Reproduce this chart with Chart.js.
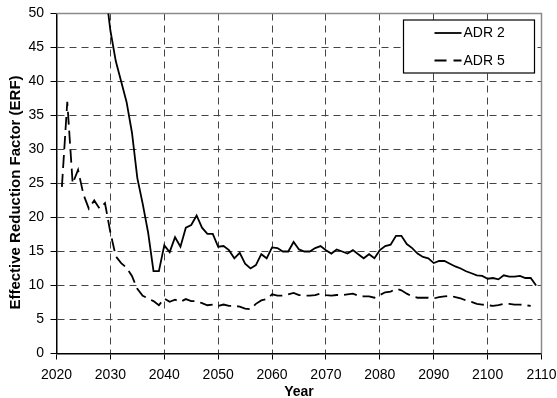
<!DOCTYPE html>
<html>
<head>
<meta charset="utf-8">
<title>ERF</title>
<script src="https://cdn.jsdelivr.net/npm/chart.js@4.4.1/dist/chart.umd.min.js"></script>
<style>
    html, body { margin: 0; padding: 0; background: #fff; }
    #wrap { width: 557px; height: 398px; }
</style>
</head>
<body>
<div id="wrap"><canvas id="erfChart" width="557" height="398"></canvas></div>
<script>
var years = [2021, 2022, 2023, 2024, 2025, 2026, 2027, 2028, 2029, 2030,
    2031, 2032, 2033, 2034, 2035, 2036, 2037, 2038, 2039, 2040,
    2041, 2042, 2043, 2044, 2045, 2046, 2047, 2048, 2049, 2050,
    2051, 2052, 2053, 2054, 2055, 2056, 2057, 2058, 2059, 2060,
    2061, 2062, 2063, 2064, 2065, 2066, 2067, 2068, 2069, 2070,
    2071, 2072, 2073, 2074, 2075, 2076, 2077, 2078, 2079, 2080,
    2081, 2082, 2083, 2084, 2085, 2086, 2087, 2088, 2089, 2090,
    2091, 2092, 2093, 2094, 2095, 2096, 2097, 2098, 2099, 2100,
    2101, 2102, 2103, 2104, 2105, 2106, 2107, 2108, 2109];

// ADR 2 (solid), starts off the top of the chart
var adr2 = [null, null, null, null, null, null, null, null, 54, 47.5,
    43, 40, 37, 32.5, 25.8, 22, 17.8, 12.1, 12.1, 15.9,
    14.9, 17.1, 15.7, 18.5, 18.9, 20.3, 18.5, 17.6, 17.6, 15.7,
    15.8, 15.2, 14.0, 14.8, 13.2, 12.5, 13.0, 14.6, 14.0, 15.6,
    15.5, 15.0, 15.0, 16.4, 15.3, 15.0, 15.0, 15.5, 15.8, 15.2,
    14.7, 15.3, 15.0, 14.7, 15.2, 14.6, 14.0, 14.6, 14.0, 15.2,
    15.8, 16.0, 17.3, 17.3, 16.1, 15.5, 14.7, 14.2, 14.0, 13.3,
    13.6, 13.6, 13.2, 12.8, 12.5, 12.1, 11.8, 11.5, 11.4, 11.0,
    11.1, 10.9, 11.5, 11.3, 11.3, 11.4, 11.1, 11.1, 10.0];

// ADR 5 (dashed)
var adr5 = [24.5, 37, 25, 27, 23.4, 21.3, 22.5, 21.3, 22.1, 17.8,
    14.3, 13.3, 12.6, 11.4, 9.5, 8.5, 8.1, 7.7, 7.1, 8.1,
    7.6, 7.9, 7.6, 8.0, 7.7, 7.7, 7.4, 7.1, 7.2, 7.0,
    7.2, 7.0, 7.0, 6.9, 6.6, 6.5, 7.3, 7.8, 8.0, 8.7,
    8.5, 8.5, 8.7, 8.9, 8.6, 8.5, 8.5, 8.6, 8.8, 8.6,
    8.5, 8.6, 8.6, 8.7, 8.8, 8.5, 8.4, 8.4, 8.2, 8.6,
    9.0, 9.1, 9.5, 9.3, 8.8, 8.4, 8.2, 8.2, 8.2, 8.1,
    8.3, 8.4, 8.5, 8.3, 8.1, 7.8, 7.6, 7.3, 7.2, 7.1,
    7.0, 7.1, 7.3, 7.3, 7.2, 7.2, 7.1, 7.0, null];

var seriesNames = ['ADR 2', 'ADR 5'];
var xTitle = 'Year';
var yTitle = 'Effective Reduction Factor (ERF)';

var FONT = "'Liberation Sans', Arial, sans-serif";

function toPoints(vals) {
    return years.map(function(yr, i) {
        return { x: yr, y: vals[i] };
    });
}

// grey top/right edge of the plot
var frameEdge = {
    id: 'frameEdge',
    beforeDatasetsDraw: function(chart) {
        var a = chart.chartArea;
        var ctx = chart.ctx;
        ctx.save();
        ctx.strokeStyle = '#8a8a8a';
        ctx.lineWidth = 1.5;
        ctx.beginPath();
        ctx.moveTo(a.left, a.top);
        ctx.lineTo(a.right, a.top);
        ctx.lineTo(a.right, a.bottom);
        ctx.stroke();
        ctx.restore();
    }
};

// y title sits a little below the middle of the axis in the original
var yAxisTitle = {
    id: 'yAxisTitle',
    afterDraw: function(chart) {
        var ctx = chart.ctx;
        ctx.save();
        ctx.translate(15.5, 192.5);
        ctx.rotate(-Math.PI / 2);
        ctx.font = 'bold 15px ' + FONT;
        ctx.fillStyle = '#000';
        ctx.textAlign = 'center';
        ctx.textBaseline = 'middle';
        ctx.fillText(yTitle, 0, 0);
        ctx.restore();
    }
};

// boxed legend in the top right corner
var boxLegend = {
    id: 'boxLegend',
    afterDraw: function(chart) {
        var a = chart.chartArea;
        var ctx = chart.ctx;
        var bx = a.right - 138, by = a.top + 6.5, bw = 131, bh = 53;
        ctx.save();
        ctx.fillStyle = '#fff';
        ctx.fillRect(bx, by, bw, bh);
        ctx.strokeStyle = '#000';
        ctx.lineWidth = 1.2;
        ctx.strokeRect(bx, by, bw, bh);

        ctx.font = '14px ' + FONT;
        ctx.textBaseline = 'middle';
        ctx.fillStyle = '#000';
        chart.data.datasets.forEach(function(ds, i) {
            var y = by + 13 + i * 27.5;
            ctx.setLineDash(i == 1 ? [12, 7] : []);
            ctx.lineWidth = 1.8;
            ctx.beginPath();
            ctx.moveTo(bx + 31, y);
            ctx.lineTo(bx + 58, y);
            ctx.stroke();
            ctx.setLineDash([]);
            ctx.fillText(ds.label, bx + 60, y + 0.5);
        });
        ctx.restore();
    }
};

var ctx = document.getElementById('erfChart').getContext('2d');
var erfChart = new Chart(ctx, {
    type: 'line',
    data: {
        datasets: [{
            label: seriesNames[0],
            data: toPoints(adr2),
            borderColor: '#000',
            borderWidth: 1.8,
            pointRadius: 0,
            tension: 0
        }, {
            label: seriesNames[1],
            data: toPoints(adr5),
            borderColor: '#000',
            borderWidth: 1.8,
            borderDash: [13, 6],
            pointRadius: 0,
            tension: 0
        }]
    },
    options: {
        responsive: false,
        animation: false,
        layout: {
            padding: { left: 0, top: 13.5, right: 15.5, bottom: 0 }
        },
        plugins: {
            legend: { display: false },
            tooltip: { enabled: false }
        },
        scales: {
            x: {
                type: 'linear',
                min: 2020,
                max: 2110,
                afterFit: function(scale) {
                    scale.height = 44.5;
                    scale.paddingLeft = 0;
                    scale.paddingRight = 0;
                },
                ticks: {
                    stepSize: 10,
                    padding: 7,
                    color: '#000',
                    font: { family: FONT, size: 14 },
                    callback: function(v) { return String(v); }
                },
                grid: {
                    color: '#444',
                    lineWidth: 1,
                    tickLength: 6,
                    tickColor: '#000',
                    tickBorderDash: []
                },
                border: { color: '#000', width: 1.5, dash: [7, 5] },
                title: {
                    display: true,
                    text: xTitle,
                    color: '#000',
                    font: { family: FONT, size: 14, weight: 'bold' },
                    padding: { top: 0, bottom: -3 }
                }
            },
            y: {
                min: 0,
                max: 50,
                afterFit: function(scale) {
                    scale.width = 56.5;
                    scale.paddingTop = 0;
                    scale.paddingBottom = 0;
                },
                ticks: {
                    stepSize: 5,
                    padding: 6.5,
                    color: '#000',
                    font: { family: FONT, size: 14 }
                },
                grid: {
                    color: '#444',
                    lineWidth: 1,
                    tickLength: 6,
                    tickColor: '#000',
                    tickBorderDash: []
                },
                border: { color: '#000', width: 1.5, dash: [7, 5] }
            }
        }
    },
    plugins: [frameEdge, yAxisTitle, boxLegend]
});
</script>
</body>
</html>
